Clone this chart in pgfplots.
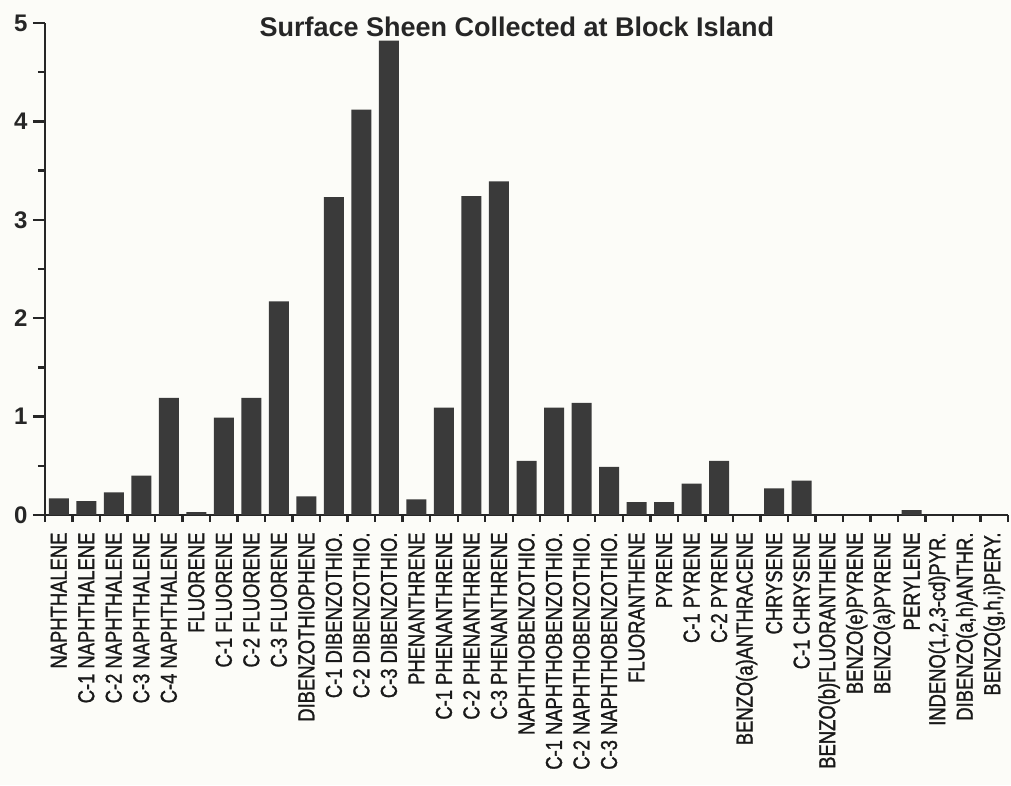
\documentclass[border=0pt]{standalone}
\usepackage{pgfplots}
\pgfplotsset{compat=1.18}
\usepackage{fontspec}
\setmainfont{Liberation Sans}
\newfontfamily\narrowfont[FakeStretch=0.8,FakeBold=1.2]{Liberation Sans}
\definecolor{barfill}{RGB}{58,58,58}
\definecolor{paper}{RGB}{252,252,248}
\begin{document}
\begin{tikzpicture}[x=1pt,y=1pt]
\fill[paper] (0,0) rectangle (1011,785);
\begin{axis}[
  at={(45pt,270pt)}, anchor=south west,
  width=963pt, height=492pt, scale only axis,
  xmin=0.5, xmax=35.5, ymin=0, ymax=5,
  axis x line=bottom, axis y line=left,
  axis line style={-, line width=2.6pt, black!85},
  ybar, bar width=20pt,
  xtick={1,...,35},
  xticklabels={NAPHTHALENE, C-1 NAPHTHALENE, C-2 NAPHTHALENE, C-3 NAPHTHALENE, C-4 NAPHTHALENE,
    FLUORENE, C-1 FLUORENE, C-2 FLUORENE, C-3 FLUORENE, DIBENZOTHIOPHENE,
    C-1 DIBENZOTHIO., C-2 DIBENZOTHIO., C-3 DIBENZOTHIO., PHENANTHRENE, C-1 PHENANTHRENE,
    C-2 PHENANTHRENE, C-3 PHENANTHRENE, NAPHTHOBENZOTHIO., C-1 NAPHTHOBENZOTHIO., C-2 NAPHTHOBENZOTHIO.,
    C-3 NAPHTHOBENZOTHIO., FLUORANTHENE, PYRENE, C-1 PYRENE, C-2 PYRENE,
    BENZO(a)ANTHRACENE, CHRYSENE, C-1 CHRYSENE, BENZO(b)FLUORANTHENE, BENZO(e)PYRENE,
    BENZO(a)PYRENE, PERYLENE, {INDENO(1,2,3-cd)PYR.}, {DIBENZO(a,h)ANTHR.}, {BENZO(g,h,i)PERY.}},
  major x tick style={draw=none},
  minor xtick={0.5,1.5,...,35.5},
  ytick={0,1,2,3,4,5},
  minor ytick={0.5,1.5,2.5,3.5,4.5},
  tick align=outside, major tick length=12pt, minor tick length=7pt,
  tick style={line width=2.4pt, black!85},
  /pgf/number format/assume math mode=true,
  yticklabel style={font=\bfseries\fontsize{24}{24}\selectfont, xshift=-2pt, text=black!85},
  xticklabel style={yshift=-2pt, rotate=90, anchor=east, font=\narrowfont\fontsize{23}{23}\selectfont, text=black!90},
  title={Surface Sheen Collected at Block Island},
  title style={at={(axis description cs:0.49,1)}, anchor=base, yshift=-19pt, font=\bfseries\fontsize{27}{27}\selectfont, text=black!85},
  clip=false,
]
\addplot[fill=barfill, draw=none] coordinates {
(1,0.17) (2,0.14) (3,0.23) (4,0.40) (5,1.19) (6,0.03) (7,0.99) (8,1.19) (9,2.17) (10,0.19)
(11,3.23) (12,4.12) (13,4.82) (14,0.16) (15,1.09) (16,3.24) (17,3.39) (18,0.55) (19,1.09) (20,1.14)
(21,0.49) (22,0.13) (23,0.13) (24,0.32) (25,0.55) (26,0) (27,0.27) (28,0.35) (29,0) (30,0)
(31,0) (32,0.05) (33,0) (34,0) (35,0)
};
\end{axis}
\end{tikzpicture}
\end{document}
